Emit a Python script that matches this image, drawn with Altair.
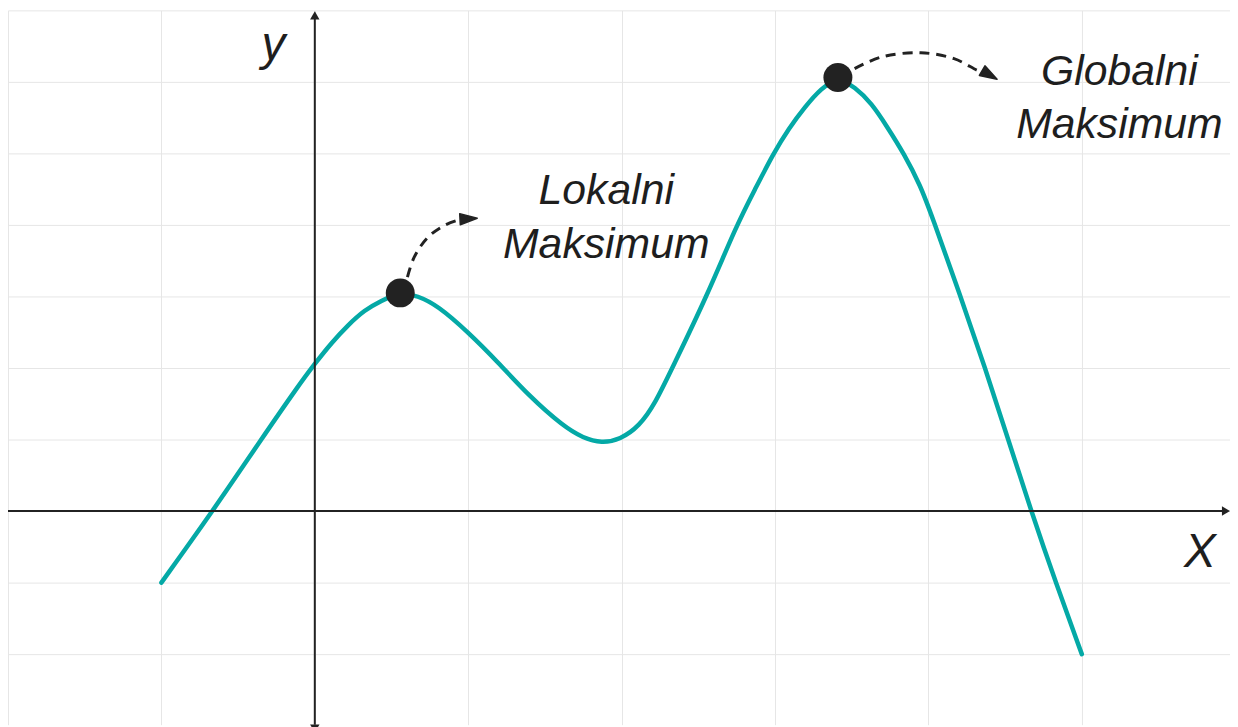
import altair as alt
import pandas as pd

# Curve samples
curve_x = [-1, -0.665, -0.35, -0.108, 0, 0.108, 0.216, 0.324, 0.431, 0.557, 0.669, 0.80,
           1.0, 1.19, 1.40, 1.62, 1.75, 1.87, 1.99, 2.115, 2.22, 2.33, 2.555, 2.75, 2.87,
           2.99, 3.09, 3.195, 3.30, 3.41, 3.52, 3.63, 3.73, 3.84, 3.95, 4.015,
           4.21, 4.37, 4.52, 4.67, 4.83, 5.0]
curve_y = [-1, 0, 1, 1.75, 2.06, 2.35, 2.60, 2.81, 2.94, 3.06, 3.01, 2.875,
           2.50, 2.09, 1.60, 1.185, 1.02, 0.95, 1.0, 1.185, 1.51, 2.0, 3.0, 4.0, 4.5,
           5.0, 5.35, 5.65, 5.91, 6.06, 5.93, 5.70, 5.375, 5.0, 4.54, 4.17,
           3.0, 2.0, 1.0, 0.0, -1.0, -2.0]

# Maxima
max_x = [0.557, 3.41]
max_y = [3.05, 6.06]

# Dashed annotation arrows
arrow1_x = [0.604, 0.648, 0.734, 0.842, 0.939, 0.975]
arrow1_y = [3.27, 3.55, 3.82, 3.99, 4.07, 4.085]
arrow2_x = [3.519, 3.692, 3.951, 4.167, 4.317, 4.35]
arrow2_y = [6.185, 6.347, 6.407, 6.324, 6.163, 6.14]
head_x = [1.0026, 4.399]
head_y = [4.086, 6.097]
head_angle = [357, 30]

# Labels (two lines each)
label_text = ["Lokalni\nMaksimum", "Globalni\nMaksimum"]
label_x = [1.90, 5.245]
label_y = [4.29, 5.96]
axis_label_text = ["y", "X"]
axis_label_x = [-0.27, 5.77]
axis_label_y = [6.31, -0.78]

# Coordinate axes
XMIN, XMAX = -2, 5.966
YMIN, YMAX = -2.986, 7
axes_x = [XMIN, 0]
axes_x2 = [5.94, 0]
axes_y = [0, YMIN]
axes_y2 = [0, 6.93]
axhead_x = [5.94, 0, 0]
axhead_y = [0, 6.93, -3.04]
axhead_shape = ["triangle-right", "triangle-up", "triangle-down"]

FONT = "Liberation Sans"

xs = alt.Scale(domain=[XMIN, XMAX], nice=False, zero=False)
ys = alt.Scale(domain=[YMIN, YMAX], nice=False, zero=False)
xax = alt.Axis(values=list(range(-2, 7)), grid=True, gridColor="#e6e6e6", gridWidth=1,
               domain=False, ticks=False, labels=False, title=None)
yax = alt.Axis(values=list(range(-3, 8)), grid=True, gridColor="#e6e6e6", gridWidth=1,
               domain=False, ticks=False, labels=False, title=None)

def X(f="x"):
    return alt.X(f"{f}:Q", scale=xs, axis=xax)

def Y(f="y"):
    return alt.Y(f"{f}:Q", scale=ys, axis=yax)

curve = alt.Chart(pd.DataFrame({"x": curve_x, "y": curve_y})).mark_line(
    color="#04a9a6", strokeWidth=4.5, interpolate="basis", strokeCap="round"
).encode(x=X(), y=Y(), order="x:Q")

axes = alt.Chart(pd.DataFrame({"x": axes_x, "x2": axes_x2, "y": axes_y, "y2": axes_y2})).mark_rule(
    color="#222222", strokeWidth=2
).encode(x=X(), x2="x2:Q", y=Y(), y2="y2:Q")

axheads = alt.Chart(pd.DataFrame({"x": axhead_x, "y": axhead_y, "s": axhead_shape})).mark_point(
    filled=True, color="#222222", size=90, opacity=1
).encode(x=X(), y=Y(), shape=alt.Shape("s:N", scale=None))

arrow_df = pd.DataFrame({
    "x": arrow1_x + arrow2_x,
    "y": arrow1_y + arrow2_y,
    "g": ["a"] * len(arrow1_x) + ["b"] * len(arrow2_x),
    "o": list(range(len(arrow1_x))) + list(range(len(arrow2_x))),
})
arrows = alt.Chart(arrow_df).mark_line(
    color="#222222", strokeWidth=3, strokeDash=[10, 7], interpolate="catmull-rom"
).encode(x=X(), y=Y(), detail="g:N", order="o:Q")

heads = alt.Chart(pd.DataFrame({"x": head_x, "y": head_y, "a": head_angle})).mark_point(
    shape="M-1,-0.65L1,0L-1,0.65Z", filled=True, color="#222222", size=300, opacity=1,
    strokeWidth=1.5, stroke="#222222", strokeJoin="round"
).encode(x=X(), y=Y(), angle=alt.Angle("a:Q", scale=None))

dots = alt.Chart(pd.DataFrame({"x": max_x, "y": max_y})).mark_circle(
    color="#222222", size=850, opacity=1
).encode(x=X(), y=Y())

labels = alt.Chart(pd.DataFrame({"x": label_x, "y": label_y, "t": label_text})).mark_text(
    font=FONT, fontStyle="italic", fontSize=43, color="#1e1e1e",
    align="center", baseline="alphabetic", lineBreak="\n", lineHeight=54
).encode(x=X(), y=Y(), text="t:N")

axis_labels = alt.Chart(pd.DataFrame({"x": axis_label_x, "y": axis_label_y, "t": axis_label_text})).mark_text(
    font=FONT, fontStyle="italic", fontSize=48, color="#1e1e1e",
    align="center", baseline="alphabetic"
).encode(x=X(), y=Y(), text="t:N")

chart = alt.layer(curve, axes, axheads, arrows, heads, dots, labels, axis_labels).properties(
    width=1230, height=719, padding=0,
    autosize=alt.AutoSizeParams(type="none"),
    background="white",
).configure_view(strokeWidth=0)

chart.save("out.html", embed_options={"renderer": "svg", "actions": False})
